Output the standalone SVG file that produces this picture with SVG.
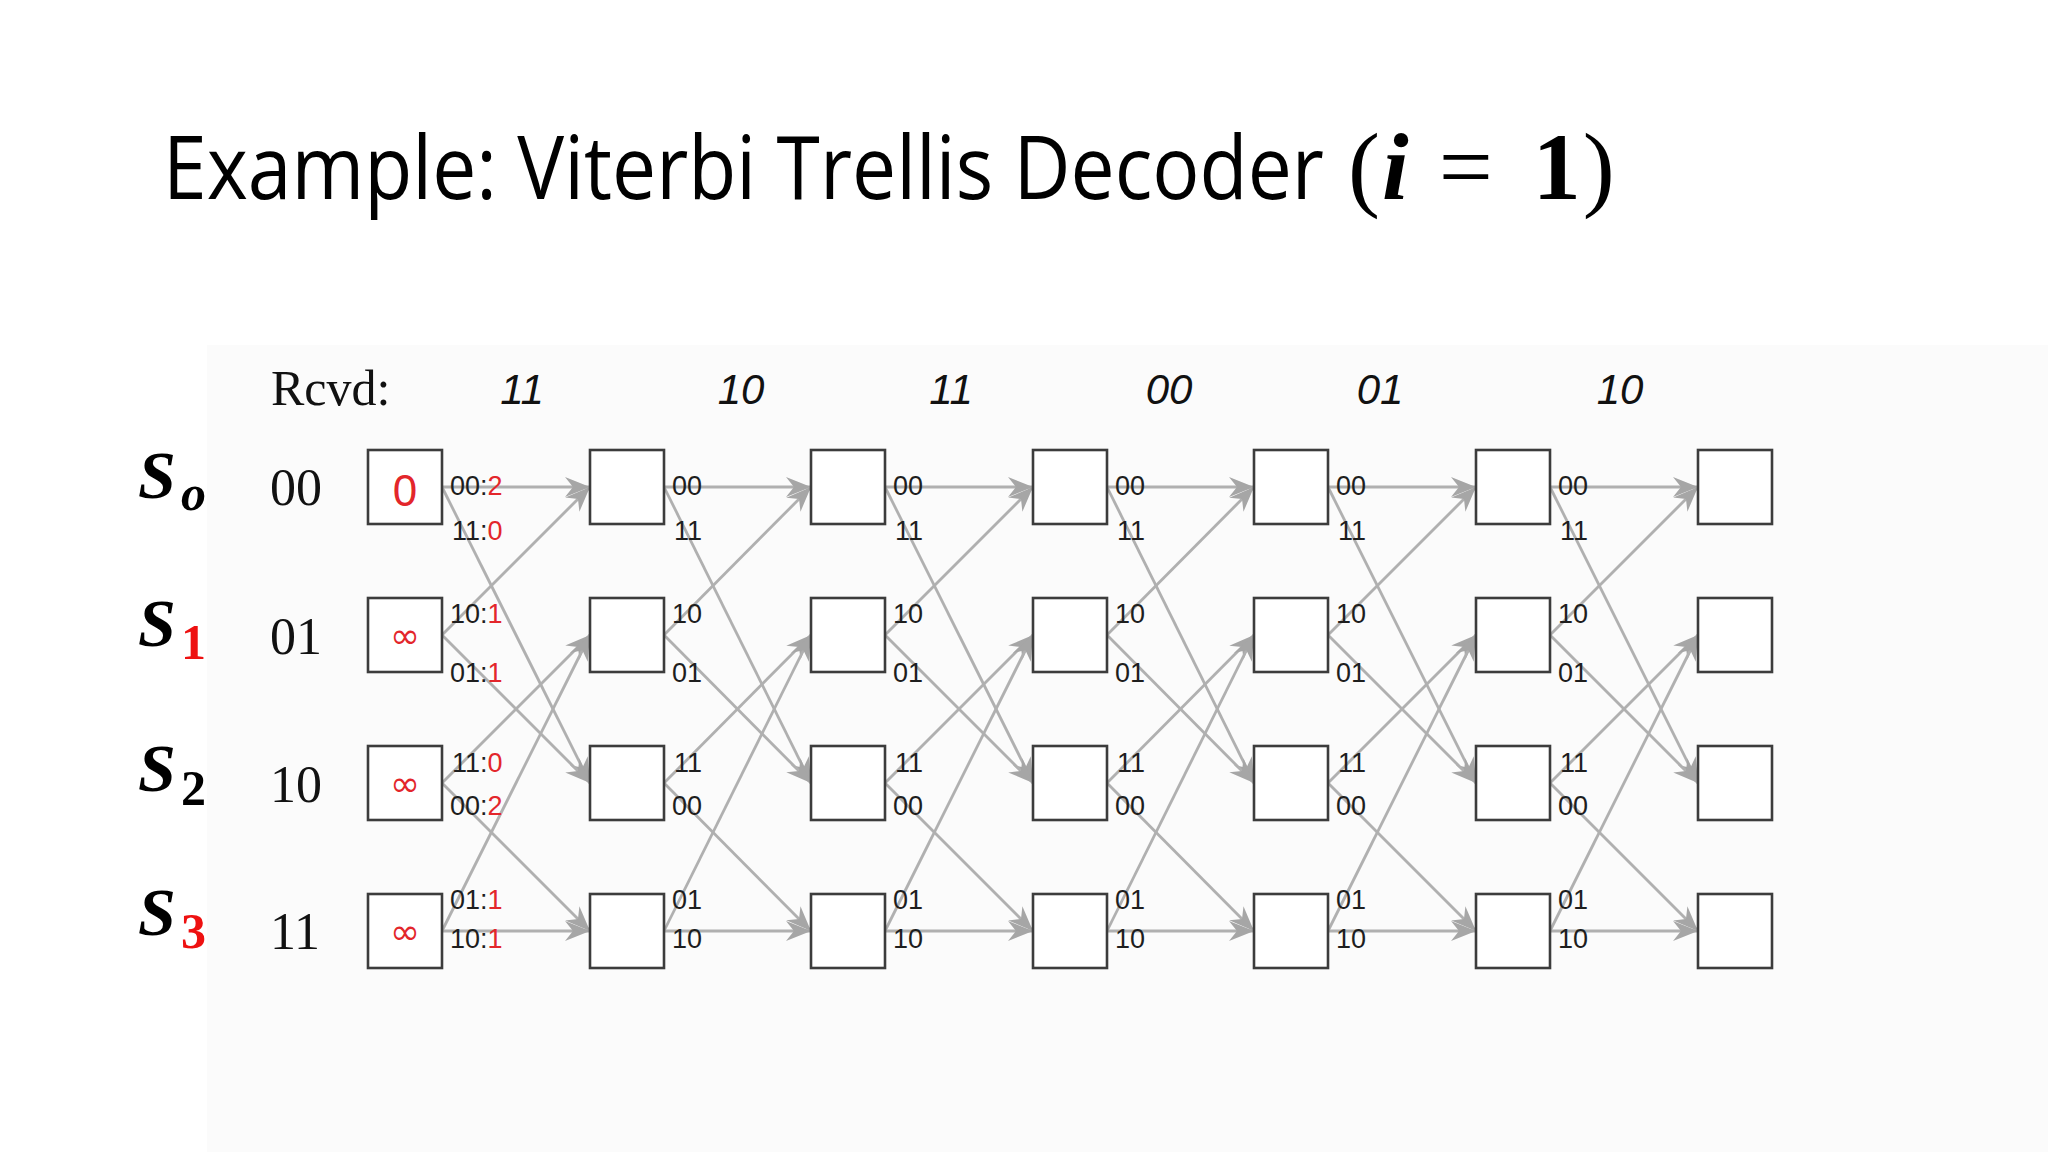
<svg xmlns="http://www.w3.org/2000/svg" width="2048" height="1152" viewBox="0 0 2048 1152">
<style>
.box{fill:#fff;stroke:#3c3c3c;stroke-width:2.6}
.edge{fill:none;stroke:#b0b0b0;stroke-width:2.8;marker-end:url(#ah)}
.lb{font-family:"Liberation Sans",Arial,sans-serif;font-size:27px;fill:#1e1e1e}
.r{fill:#e3262b}
.rv{font-family:"Liberation Sans",Arial,sans-serif;font-style:italic;font-size:42px;fill:#111;text-anchor:middle}
.sv{font-family:"Liberation Serif","Times New Roman",serif;font-size:52px;fill:#111}
.S{font-family:"Liberation Serif","Times New Roman",serif;font-weight:bold;font-style:italic;font-size:68px;fill:#000}
.sub{font-family:"Liberation Serif","Times New Roman",serif;font-weight:bold;font-size:50px}
.inf{font-family:"DejaVu Sans","Liberation Sans",sans-serif;font-size:36px;fill:#e3262b;text-anchor:middle}
.math{font-family:"Liberation Serif","Times New Roman",serif;font-size:96px;fill:#000}
</style>
<defs>
<marker id="ah" markerUnits="userSpaceOnUse" markerWidth="28" markerHeight="24" refX="25" refY="12" orient="auto" viewBox="0 0 28 24">
<path d="M0,2 L25,12 L0,22 L8,12 z" fill="#a6a6a6"/>
</marker>
</defs>
<rect x="0" y="0" width="2048" height="1152" fill="#ffffff"/>
<rect x="207" y="345" width="1841" height="807" fill="#fbfbfb"/>

<g id="title">
<text transform="translate(163,199) scale(0.893,1)" x="0" y="0" font-family="'Open Sans','Noto Sans',sans-serif" font-size="88" textLength="1300" lengthAdjust="spacingAndGlyphs" fill="#000">Example: Viterbi Trellis Decoder</text>
<text class="math" x="1348" y="199">(<tspan dx="2" font-weight="bold" font-style="italic">i</tspan><tspan dx="30">=</tspan><tspan dx="40" font-weight="bold">1</tspan><tspan dx="2">)</tspan></text>
</g>

<g id="rcvd">
<text x="271" y="405" font-family="'Liberation Serif','Times New Roman',serif" font-size="50" fill="#111">Rcvd:</text>
<text class="rv" x="522" y="404">11</text>
<text class="rv" x="741" y="404">10</text>
<text class="rv" x="951" y="404">11</text>
<text class="rv" x="1169" y="404">00</text>
<text class="rv" x="1380" y="404">01</text>
<text class="rv" x="1620" y="404">10</text>
</g>

<g id="state-labels">
<text class="S" x="138" y="498">S</text><text class="sub" x="181" y="510" font-style="italic" fill="#000">o</text>
<text class="S" x="138" y="646">S</text><text class="sub" x="181" y="659" fill="#ee1111">1</text>
<text class="S" x="138" y="791">S</text><text class="sub" x="181" y="805" fill="#000">2</text>
<text class="S" x="138" y="935">S</text><text class="sub" x="181" y="948" fill="#ee1111">3</text>
<text class="sv" x="270" y="505">00</text>
<text class="sv" x="270" y="654">01</text>
<text class="sv" x="270" y="802">10</text>
<text class="sv" x="270" y="949">11</text>
</g>

<g id="connectors">
<!-- t0 -->
<line class="edge" x1="442" y1="487" x2="590" y2="487"/>
<line class="edge" x1="442" y1="487" x2="590" y2="783"/>
<line class="edge" x1="442" y1="635" x2="590" y2="487"/>
<line class="edge" x1="442" y1="635" x2="590" y2="783"/>
<line class="edge" x1="442" y1="783" x2="590" y2="635"/>
<line class="edge" x1="442" y1="783" x2="590" y2="931"/>
<line class="edge" x1="442" y1="931" x2="590" y2="635"/>
<line class="edge" x1="442" y1="931" x2="590" y2="931"/>
<!-- t1 -->
<line class="edge" x1="664" y1="487" x2="811" y2="487"/>
<line class="edge" x1="664" y1="487" x2="811" y2="783"/>
<line class="edge" x1="664" y1="635" x2="811" y2="487"/>
<line class="edge" x1="664" y1="635" x2="811" y2="783"/>
<line class="edge" x1="664" y1="783" x2="811" y2="635"/>
<line class="edge" x1="664" y1="783" x2="811" y2="931"/>
<line class="edge" x1="664" y1="931" x2="811" y2="635"/>
<line class="edge" x1="664" y1="931" x2="811" y2="931"/>
<!-- t2 -->
<line class="edge" x1="885" y1="487" x2="1033" y2="487"/>
<line class="edge" x1="885" y1="487" x2="1033" y2="783"/>
<line class="edge" x1="885" y1="635" x2="1033" y2="487"/>
<line class="edge" x1="885" y1="635" x2="1033" y2="783"/>
<line class="edge" x1="885" y1="783" x2="1033" y2="635"/>
<line class="edge" x1="885" y1="783" x2="1033" y2="931"/>
<line class="edge" x1="885" y1="931" x2="1033" y2="635"/>
<line class="edge" x1="885" y1="931" x2="1033" y2="931"/>
<!-- t3 -->
<line class="edge" x1="1107" y1="487" x2="1254" y2="487"/>
<line class="edge" x1="1107" y1="487" x2="1254" y2="783"/>
<line class="edge" x1="1107" y1="635" x2="1254" y2="487"/>
<line class="edge" x1="1107" y1="635" x2="1254" y2="783"/>
<line class="edge" x1="1107" y1="783" x2="1254" y2="635"/>
<line class="edge" x1="1107" y1="783" x2="1254" y2="931"/>
<line class="edge" x1="1107" y1="931" x2="1254" y2="635"/>
<line class="edge" x1="1107" y1="931" x2="1254" y2="931"/>
<!-- t4 -->
<line class="edge" x1="1328" y1="487" x2="1476" y2="487"/>
<line class="edge" x1="1328" y1="487" x2="1476" y2="783"/>
<line class="edge" x1="1328" y1="635" x2="1476" y2="487"/>
<line class="edge" x1="1328" y1="635" x2="1476" y2="783"/>
<line class="edge" x1="1328" y1="783" x2="1476" y2="635"/>
<line class="edge" x1="1328" y1="783" x2="1476" y2="931"/>
<line class="edge" x1="1328" y1="931" x2="1476" y2="635"/>
<line class="edge" x1="1328" y1="931" x2="1476" y2="931"/>
<!-- t5 -->
<line class="edge" x1="1550" y1="487" x2="1698" y2="487"/>
<line class="edge" x1="1550" y1="487" x2="1698" y2="783"/>
<line class="edge" x1="1550" y1="635" x2="1698" y2="487"/>
<line class="edge" x1="1550" y1="635" x2="1698" y2="783"/>
<line class="edge" x1="1550" y1="783" x2="1698" y2="635"/>
<line class="edge" x1="1550" y1="783" x2="1698" y2="931"/>
<line class="edge" x1="1550" y1="931" x2="1698" y2="635"/>
<line class="edge" x1="1550" y1="931" x2="1698" y2="931"/>

<!-- labels column 0 -->
<text class="lb" x="450" y="495">00:<tspan class="r">2</tspan></text>
<text class="lb" x="452" y="540">11:<tspan class="r">0</tspan></text>
<text class="lb" x="450" y="623">10:<tspan class="r">1</tspan></text>
<text class="lb" x="450" y="682">01:<tspan class="r">1</tspan></text>
<text class="lb" x="452" y="772">11:<tspan class="r">0</tspan></text>
<text class="lb" x="450" y="815">00:<tspan class="r">2</tspan></text>
<text class="lb" x="450" y="909">01:<tspan class="r">1</tspan></text>
<text class="lb" x="450" y="948">10:<tspan class="r">1</tspan></text>
<!-- labels columns 1-5 -->
<g class="lb">
<text x="672" y="495">00</text><text x="674" y="540">11</text><text x="672" y="623">10</text><text x="672" y="682">01</text>
<text x="674" y="772">11</text><text x="672" y="815">00</text><text x="672" y="909">01</text><text x="672" y="948">10</text>
<text x="893" y="495">00</text><text x="895" y="540">11</text><text x="893" y="623">10</text><text x="893" y="682">01</text>
<text x="895" y="772">11</text><text x="893" y="815">00</text><text x="893" y="909">01</text><text x="893" y="948">10</text>
<text x="1115" y="495">00</text><text x="1117" y="540">11</text><text x="1115" y="623">10</text><text x="1115" y="682">01</text>
<text x="1117" y="772">11</text><text x="1115" y="815">00</text><text x="1115" y="909">01</text><text x="1115" y="948">10</text>
<text x="1336" y="495">00</text><text x="1338" y="540">11</text><text x="1336" y="623">10</text><text x="1336" y="682">01</text>
<text x="1338" y="772">11</text><text x="1336" y="815">00</text><text x="1336" y="909">01</text><text x="1336" y="948">10</text>
<text x="1558" y="495">00</text><text x="1560" y="540">11</text><text x="1558" y="623">10</text><text x="1558" y="682">01</text>
<text x="1560" y="772">11</text><text x="1558" y="815">00</text><text x="1558" y="909">01</text><text x="1558" y="948">10</text>
</g>
</g>

<!-- nodes: time 0 -->
<g id="n-t0-s0"><rect class="box" x="368" y="450" width="74" height="74"/><text x="405" y="506" font-family="'Liberation Sans',Arial,sans-serif" font-size="44" fill="#e3262b" text-anchor="middle">0</text></g>
<g id="n-t0-s1"><rect class="box" x="368" y="598" width="74" height="74"/><text class="inf" x="405" y="648">∞</text></g>
<g id="n-t0-s2"><rect class="box" x="368" y="746" width="74" height="74"/><text class="inf" x="405" y="796">∞</text></g>
<g id="n-t0-s3"><rect class="box" x="368" y="894" width="74" height="74"/><text class="inf" x="405" y="944">∞</text></g>
<!-- time 1 -->
<g id="n-t1-s0"><rect class="box" x="590" y="450" width="74" height="74"/></g>
<g id="n-t1-s1"><rect class="box" x="590" y="598" width="74" height="74"/></g>
<g id="n-t1-s2"><rect class="box" x="590" y="746" width="74" height="74"/></g>
<g id="n-t1-s3"><rect class="box" x="590" y="894" width="74" height="74"/></g>
<!-- time 2 -->
<g id="n-t2-s0"><rect class="box" x="811" y="450" width="74" height="74"/></g>
<g id="n-t2-s1"><rect class="box" x="811" y="598" width="74" height="74"/></g>
<g id="n-t2-s2"><rect class="box" x="811" y="746" width="74" height="74"/></g>
<g id="n-t2-s3"><rect class="box" x="811" y="894" width="74" height="74"/></g>
<!-- time 3 -->
<g id="n-t3-s0"><rect class="box" x="1033" y="450" width="74" height="74"/></g>
<g id="n-t3-s1"><rect class="box" x="1033" y="598" width="74" height="74"/></g>
<g id="n-t3-s2"><rect class="box" x="1033" y="746" width="74" height="74"/></g>
<g id="n-t3-s3"><rect class="box" x="1033" y="894" width="74" height="74"/></g>
<!-- time 4 -->
<g id="n-t4-s0"><rect class="box" x="1254" y="450" width="74" height="74"/></g>
<g id="n-t4-s1"><rect class="box" x="1254" y="598" width="74" height="74"/></g>
<g id="n-t4-s2"><rect class="box" x="1254" y="746" width="74" height="74"/></g>
<g id="n-t4-s3"><rect class="box" x="1254" y="894" width="74" height="74"/></g>
<!-- time 5 -->
<g id="n-t5-s0"><rect class="box" x="1476" y="450" width="74" height="74"/></g>
<g id="n-t5-s1"><rect class="box" x="1476" y="598" width="74" height="74"/></g>
<g id="n-t5-s2"><rect class="box" x="1476" y="746" width="74" height="74"/></g>
<g id="n-t5-s3"><rect class="box" x="1476" y="894" width="74" height="74"/></g>
<!-- time 6 -->
<g id="n-t6-s0"><rect class="box" x="1698" y="450" width="74" height="74"/></g>
<g id="n-t6-s1"><rect class="box" x="1698" y="598" width="74" height="74"/></g>
<g id="n-t6-s2"><rect class="box" x="1698" y="746" width="74" height="74"/></g>
<g id="n-t6-s3"><rect class="box" x="1698" y="894" width="74" height="74"/></g>
</svg>
